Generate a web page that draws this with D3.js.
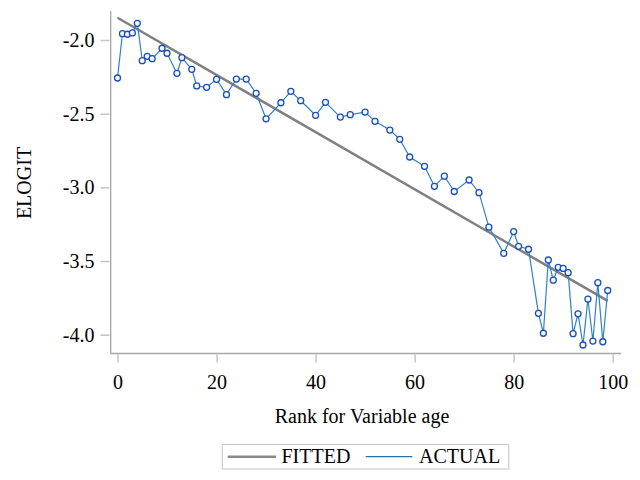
<!DOCTYPE html>
<html>
<head>
<meta charset="utf-8">
<script src="https://cdn.jsdelivr.net/npm/d3@7"></script>
<style>
  body { margin: 0; background: #fff; }
</style>
</head>
<body>
<svg id="chart" width="640" height="480" font-family="'Liberation Serif', 'Times New Roman', Times, 'DejaVu Serif', serif"></svg>
<script>
// rank of each group and its empirical logit
var ranks = [0,1,2,3,4,5,6,7,9,10,12,13,15,16,18,20,22,24,26,28,30,33,35,37,40,42,45,47,50,52,
             55,57,59,62,64,66,68,71,73,75,78,80,81,83,85,86,87,88,89,90,91,92,93,94,95,96,97,98,99];
var actual = [-2.258,-1.957,-1.961,-1.952,-1.887,-2.140,-2.111,-2.127,-2.056,-2.090,-2.226,-2.120,-2.199,-2.312,
              -2.321,-2.267,-2.371,-2.265,-2.265,-2.362,-2.535,-2.426,-2.348,-2.412,-2.511,-2.423,-2.523,-2.507,
              -2.489,-2.552,-2.611,-2.674,-2.794,-2.857,-2.993,-2.924,-3.028,-2.950,-3.036,-3.270,-3.448,-3.300,
              -3.400,-3.420,-3.855,-3.990,-3.493,-3.630,-3.543,-3.550,-3.579,-3.993,-3.858,-4.070,-3.758,-4.043,
              -3.647,-4.048,-3.700];
// fitted line, end points
var fittedRanks = [0, 99];
var fitted = [-1.849, -3.770];

var xTicks = [0, 20, 40, 60, 80, 100];
var yTicks = [-2.0, -2.5, -3.0, -3.5, -4.0];
var legendLabels = ["FITTED", "ACTUAL"];

var serif = "'Liberation Serif', 'Times New Roman', Times, 'DejaVu Serif', serif";
var svg = d3.select("#chart");

var xscl = d3.scaleLinear().domain([0, 100]).range([117.5, 612.7]);
var yscl = d3.scaleLinear().domain([-2, -4]).range([40, 334.7]);

var axisColor = "#a6a6a6";

// axis lines
svg.append("line")
    .attr("x1", 110.7).attr("x2", 110.7)
    .attr("y1", 11).attr("y2", 353.5)
    .style("stroke", axisColor).style("stroke-width", 1.3);
svg.append("line")
    .attr("x1", 110.7).attr("x2", 621)
    .attr("y1", 353.5).attr("y2", 353.5)
    .style("stroke", axisColor).style("stroke-width", 1.3);

var xAxis = d3.axisBottom(xscl).tickValues(xTicks).tickSize(8).tickPadding(12)
    .tickFormat(d3.format("d"));
var yAxis = d3.axisLeft(yscl).tickValues(yTicks).tickSize(9).tickPadding(6)
    .tickFormat(function(d) { return d.toFixed(1); });

var gx = svg.append("g").attr("transform", "translate(0,354.5)").call(xAxis);
var gy = svg.append("g").attr("transform", "translate(109.5,0)").call(yAxis);
[gx, gy].forEach(function(g) {
    g.attr("font-family", serif).attr("font-size", 20);
    g.select(".domain").remove();
    g.selectAll(".tick line").style("stroke", "#c4c4c4").style("stroke-width", 1.5);
    g.selectAll(".tick text").style("fill", "#000");
});

// axis titles
svg.append("text")
    .attr("x", 362).attr("y", 423)
    .attr("text-anchor", "middle")
    .attr("font-family", serif)
    .attr("font-size", 20)
    .text("Rank for Variable age");
svg.append("text")
    .attr("transform", "translate(31,183) rotate(-90)")
    .attr("text-anchor", "middle")
    .attr("font-family", serif)
    .attr("font-size", 20)
    .text("ELOGIT");

// fitted line
var fitXY = fittedRanks.map(function(r, i) { return {x: r, y: fitted[i]}; });
var slice = d3.line()
    .x(function(d) { return xscl(d.x); })
    .y(function(d) { return yscl(d.y); });

svg.append("path")
    .attr("d", slice(fitXY))
    .style("fill", "none")
    .style("stroke", "#808080")
    .style("stroke-width", 2.5);

// actual series
var xy = [];
for (let i = 0; i < ranks.length; i++) {
    xy.push({x: ranks[i], y: actual[i]});
}
svg.append("path")
    .attr("d", slice(xy))
    .style("fill", "none")
    .style("stroke", "#2e82c6")
    .style("stroke-width", 1.2);

svg.selectAll("circle.pt")
    .data(xy)
    .enter().append("circle")
    .attr("class", "pt")
    .attr("cx", function(d) { return xscl(d.x); })
    .attr("cy", function(d) { return yscl(d.y); })
    .attr("r", 3)
    .style("fill", "#f4f8ff")
    .style("stroke", "#1d4fb8")
    .style("stroke-width", 1.3);

// legend
var leg = svg.append("g");
leg.append("rect")
    .attr("x", 222.3).attr("y", 444.5)
    .attr("width", 286.5).attr("height", 24.5)
    .style("fill", "#fff")
    .style("stroke", "#cccccc")
    .style("stroke-width", 1.2);
var legItems = [
    {label: legendLabels[0], color: "#8a8a8a", width: 2.5, x1: 227.7, x2: 276, tx: 281.5},
    {label: legendLabels[1], color: "#2a6fad", width: 1.2, x1: 365.7, x2: 412.3, tx: 419}
];
legItems.forEach(function(it) {
    leg.append("line")
        .attr("x1", it.x1).attr("x2", it.x2)
        .attr("y1", 456.7).attr("y2", 456.7)
        .style("stroke", it.color)
        .style("stroke-width", it.width);
    leg.append("text")
        .attr("x", it.tx).attr("y", 462.5)
        .attr("font-family", serif)
        .attr("font-size", 20)
        .text(it.label);
});
</script>
</body>
</html>
